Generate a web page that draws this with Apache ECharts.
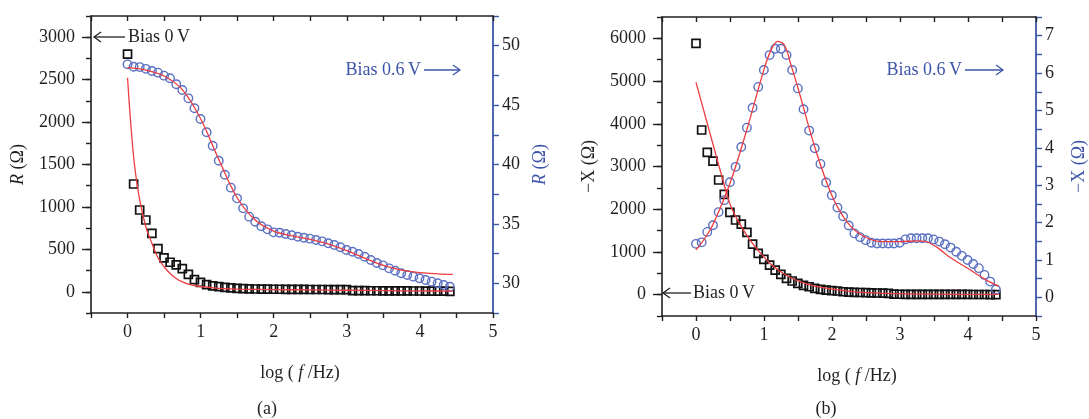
<!DOCTYPE html>
<html><head><meta charset="utf-8">
<script src="https://cdn.jsdelivr.net/npm/echarts@6/dist/echarts.min.js"></script>
<style>html,body{margin:0;padding:0;background:#fff}#c{width:1089px;height:419px}</style>
</head><body><div id="c"></div>
<script>
// shared log(f/Hz) sample positions
const logF = [0, 0.083, 0.166, 0.250, 0.333, 0.416, 0.499, 0.582, 0.666, 0.749, 0.832, 0.915, 0.998, 1.082, 1.165, 1.248, 1.331, 1.414, 1.498, 1.581, 1.664, 1.747, 1.830, 1.914, 1.997, 2.080, 2.163, 2.246, 2.330, 2.413, 2.496, 2.579, 2.662, 2.746, 2.829, 2.912, 2.995, 3.078, 3.162, 3.245, 3.328, 3.411, 3.494, 3.578, 3.661, 3.744, 3.827, 3.910, 3.994, 4.077, 4.160, 4.243, 4.326, 4.410];
// (a) R, bias 0 V (left axis, ohm)
const rBias0 = [2800, 1270, 964, 846, 689, 508, 400, 348, 316, 272, 206, 143, 112, 85, 70, 60, 52, 45, 40, 37, 35, 33, 32, 31, 30, 30, 29, 29, 28, 28, 27, 27, 27, 26, 26, 26, 25, 14, 13, 13, 12, 12, 11, 11, 10, 10, 10, 9, 9, 8, 8, 7, 7, 6];
// (a) R, bias 0.6 V (right axis, ohm)
const rBias06 = [48.43, 48.23, 48.2, 48.05, 47.87, 47.73, 47.48, 47.26, 46.75, 46.27, 45.57, 44.73, 43.83, 42.71, 41.58, 40.32, 39.14, 38.05, 37.15, 36.31, 35.61, 35.18, 34.8, 34.54, 34.29, 34.26, 34.15, 34.04, 33.92, 33.84, 33.76, 33.64, 33.53, 33.37, 33.22, 33.03, 32.8, 32.66, 32.47, 32.24, 31.96, 31.71, 31.51, 31.26, 31.06, 30.84, 30.7, 30.56, 30.42, 30.28, 30.14, 30.0, 29.86, 29.71];
// (b) -X, bias 0 V (left axis)
const xBias0 = [5884, 3854, 3331, 3128, 2684, 2348, 1926, 1747, 1653, 1458, 1185, 967, 826, 693, 576, 475, 382, 319, 265, 218, 185, 148, 125, 108, 92, 85, 68, 61, 55, 50, 46, 42, 38, 35, 32, 10, 9, 8, 8, 7, 7, 6, 6, 5, 5, 5, 4, 4, 4, 3, 3, 3, 2, 2];
// (b) -X, bias 0.6 V (right axis)
const xBias06 = [1.43, 1.47, 1.75, 1.93, 2.28, 2.6, 3.08, 3.49, 4.02, 4.54, 5.07, 5.63, 6.08, 6.48, 6.65, 6.65, 6.48, 6.08, 5.59, 5.03, 4.46, 3.99, 3.57, 3.07, 2.73, 2.4, 2.17, 1.92, 1.71, 1.61, 1.53, 1.46, 1.44, 1.44, 1.44, 1.44, 1.46, 1.55, 1.58, 1.58, 1.58, 1.58, 1.55, 1.49, 1.42, 1.33, 1.22, 1.11, 1.0, 0.89, 0.78, 0.6, 0.42, 0.21];
// fitted curves
const fitRx0 = [0, 0.083, 0.166, 0.25, 0.333, 0.416, 0.5, 0.583, 0.666, 0.75, 0.833, 0.916, 1.0, 1.25, 1.5, 2.0, 2.5, 3.0, 3.5, 4.0, 4.45];
const fitR0 = [2523, 1592, 1082, 767, 571, 401, 295, 216, 157, 117, 90, 74, 62, 40, 32, 26, 22, 18, 14, 10, 8];
const fitRx06 = [0, 0.25, 0.5, 0.75, 1.0, 1.25, 1.5, 1.75, 2.0, 2.25, 2.5, 2.75, 3.0, 3.25, 3.5, 3.75, 4.0, 4.25, 4.45];
const fitR06 = [48.15, 47.95, 47.45, 46.3, 43.85, 40.4, 37.2, 35.3, 34.4, 34.0, 33.7, 33.3, 32.75, 32.1, 31.5, 31.1, 30.9, 30.8, 30.75];
const fitXx0 = [0, 0.1, 0.2, 0.3, 0.4, 0.5, 0.6, 0.75, 0.9, 1.1, 1.35, 1.6, 1.85, 2.3, 2.8, 3.5, 4.45];
const fitX0 = [4970, 4390, 3810, 3230, 2660, 2120, 1780, 1380, 1060, 720, 430, 265, 170, 70, 30, 12, 5];
const fitXx06 = [0, 0.1, 0.25, 0.5, 0.75, 1.0, 1.1, 1.2, 1.3, 1.4, 1.5, 1.75, 2.0, 2.25, 2.5, 2.75, 3.0, 3.25, 3.4, 3.55, 3.75, 4.0, 4.25, 4.45];
const fitX06 = [1.27, 1.5, 1.95, 3.05, 4.5, 6.1, 6.6, 6.85, 6.75, 6.2, 5.6, 4.0, 2.72, 1.95, 1.6, 1.49, 1.49, 1.51, 1.48, 1.33, 1.05, 0.77, 0.48, 0.3];
// tick labels
const xTicks = [0, 1, 2, 3, 4, 5];
const rLeftTicks = [0, 500, 1000, 1500, 2000, 2500, 3000];
const rRightTicks = [30, 35, 40, 45, 50];
const xLeftTicks = [0, 1000, 2000, 3000, 4000, 5000, 6000];
const xRightTicks = [0, 1, 2, 3, 4, 5, 6, 7];

const FONT = 'Liberation Serif';
const TXT = '#231f20';
const BLUE = '#3d55a8';
const CIRC = '#5a70c2';
const RED = '#ee3b3f';
const FS = 18;
const plain = v => String(v);

const zip = (xs, ys) => xs.map((x, i) => [x, ys[i]]);

function xAxes(grid) {
  return [{
    gridIndex: grid, type: 'value', position: 'bottom', min: -0.5, max: 5, interval: 0.5,
    axisLine: { onZero: false, lineStyle: { color: TXT, width: 1.6 } },
    axisTick: { length: 5, lineStyle: { color: TXT, width: 1.4 } },
    axisLabel: { customValues: xTicks, formatter: plain, fontFamily: FONT, fontSize: FS, color: TXT, margin: 10 },
    splitLine: { show: false },
    name: 'log ( {i|f} /Hz)', nameLocation: 'middle', nameGap: 51,
    nameTextStyle: { fontFamily: FONT, fontSize: FS, color: TXT, padding: [0, 0, 0, 16],
      rich: { i: { fontFamily: FONT, fontSize: FS, fontStyle: 'italic', color: TXT } } }
  }, {
    gridIndex: grid, type: 'value', position: 'top', min: -0.5, max: 5, interval: 0.5,
    axisLine: { onZero: false, lineStyle: { color: TXT, width: 1.6 } },
    axisTick: { inside: true, length: 5, lineStyle: { color: TXT, width: 1.4 } },
    axisLabel: { show: false }, splitLine: { show: false }
  }];
}
function leftAxes(grid, min, max, minor, labels, name, gap) {
  const majors = labels;
  const minors = [];
  for (let v = min; v <= max + 1e-9; v += minor) minors.push(v);
  return [{
    gridIndex: grid, type: 'value', position: 'left', min: min, max: max, interval: minor,
    axisLine: { show: true, onZero: false, lineStyle: { color: TXT, width: 1.6 } },
    axisTick: { customValues: minors, length: 5, lineStyle: { color: TXT, width: 1.4 } },
    axisLabel: { customValues: majors, formatter: plain, fontFamily: FONT, fontSize: FS, color: TXT, margin: 16 },
    splitLine: { show: false },
    name: name, nameLocation: 'middle', nameGap: gap,
    nameTextStyle: { fontFamily: FONT, fontSize: FS, color: TXT,
      rich: { i: { fontFamily: FONT, fontSize: FS, fontStyle: 'italic', color: TXT } } }
  }, {
    gridIndex: grid, type: 'value', position: 'left', min: min, max: max, interval: minor,
    axisLine: { show: false, onZero: false },
    axisTick: { customValues: majors, length: 9, lineStyle: { color: TXT, width: 1.4 } },
    axisLabel: { show: false }, splitLine: { show: false }
  }];
}
function rightAxis(grid, min, max, minor, labels, name, gap) {
  const minors = [];
  for (let v = min; v <= max + 1e-9; v += minor) minors.push(+v.toFixed(3));
  return {
    gridIndex: grid, type: 'value', position: 'right', min: min, max: max, interval: minor,
    axisLine: { show: true, onZero: false, lineStyle: { color: BLUE, width: 1.8 } },
    axisTick: { customValues: minors, length: 6, lineStyle: { color: BLUE, width: 1.4 } },
    axisLabel: { customValues: labels, formatter: plain, fontFamily: FONT, fontSize: FS, color: TXT, margin: 9 },
    splitLine: { show: false },
    name: name, nameLocation: 'middle', nameGap: gap,
    nameTextStyle: { fontFamily: FONT, fontSize: FS, color: BLUE,
      rich: { i: { fontFamily: FONT, fontSize: FS, fontStyle: 'italic', color: BLUE } } }
  };
}

function scat(x, y, xs, ys, kind) {
  const sq = kind === 'sq';
  return {
    type: 'scatter', xAxisIndex: x, yAxisIndex: y, data: zip(xs, ys),
    symbol: sq ? 'rect' : 'circle', symbolSize: sq ? 8 : 8.5, z: 3,
    itemStyle: { color: 'rgba(255,255,255,0)', borderColor: sq ? '#111' : CIRC, borderWidth: sq ? 1.7 : 1.4, opacity: 1 },
    emphasis: { disabled: true }, silent: true
  };
}
function fit(x, y, xs, ys) {
  return {
    type: 'line', xAxisIndex: x, yAxisIndex: y, data: zip(xs, ys), smooth: 0.35,
    showSymbol: false, z: 5, lineStyle: { color: RED, width: 1.3 }, silent: true
  };
}

const yA = leftAxes(0, -250, 3250, 250, rLeftTicks, '{i|R} (Ω)', 64);
const yB = leftAxes(1, -500, 6500, 500, xLeftTicks, '−X (Ω)', 64);

function arrowLeft(x1, x2, y, color) {
  return { type: 'group', silent: true, children: [
    { type: 'line', shape: { x1: x1, y1: y, x2: x2, y2: y }, style: { stroke: color, lineWidth: 1.3 } },
    { type: 'polyline', shape: { points: [[x1 + 7, y - 5], [x1, y], [x1 + 7, y + 5]] }, style: { stroke: color, lineWidth: 1.3, fill: null } }
  ] };
}
function arrowRight(x1, x2, y, color) {
  return { type: 'group', silent: true, children: [
    { type: 'line', shape: { x1: x1, y1: y, x2: x2, y2: y }, style: { stroke: color, lineWidth: 1.3 } },
    { type: 'polyline', shape: { points: [[x2 - 7, y - 5], [x2, y], [x2 - 7, y + 5]] }, style: { stroke: color, lineWidth: 1.3, fill: null } }
  ] };
}
function label(text, x, y, color, align) {
  return { type: 'text', silent: true, style: { text: text, x: x, y: y, fill: color,
    font: FS + 'px "' + FONT + '"', align: align || 'left', verticalAlign: 'middle' } };
}

const chart = echarts.init(document.getElementById('c'), null, { renderer: 'canvas' });
chart.setOption({
  animation: false,
  backgroundColor: '#ffffff',
  grid: [
    { left: 91, right: 596, top: 16, bottom: 106 },
    { left: 662, right: 51, top: 17, bottom: 103 }
  ],
  xAxis: [...xAxes(0), ...xAxes(1)],
  yAxis: [yA[0], rightAxis(0, 27.5, 52.5, 2.5, rRightTicks, '{i|R} (Ω)', 38), yA[1],
          yB[0], rightAxis(1, -0.5, 7.5, 0.5, xRightTicks, '−X (Ω)', 34), yB[1]],
  series: [
    scat(0, 0, logF, rBias0, 'sq'),
    scat(0, 1, logF, rBias06, 'ci'),
    fit(0, 0, fitRx0, fitR0),
    fit(0, 1, fitRx06, fitR06),
    scat(2, 3, logF, xBias0, 'sq'),
    scat(2, 4, logF, xBias06, 'ci'),
    fit(2, 3, fitXx0, fitX0),
    fit(2, 4, fitXx06, fitX06)
  ],
  graphic: [
    arrowLeft(94, 125, 37, TXT), label('Bias 0\u2009V', 128, 37, TXT),
    label('Bias 0.6\u2009V', 421, 70, BLUE, 'right'), arrowRight(424, 460, 70, BLUE),
    label('Bias 0.6\u2009V', 962, 70, BLUE, 'right'), arrowRight(965, 1003, 70, BLUE),
    arrowLeft(663, 691, 293, TXT), label('Bias 0\u2009V', 693, 293, TXT),
    label('(a)', 267, 409, TXT, 'center'),
    label('(b)', 826, 409, TXT, 'center')
  ]
});
</script></body></html>
